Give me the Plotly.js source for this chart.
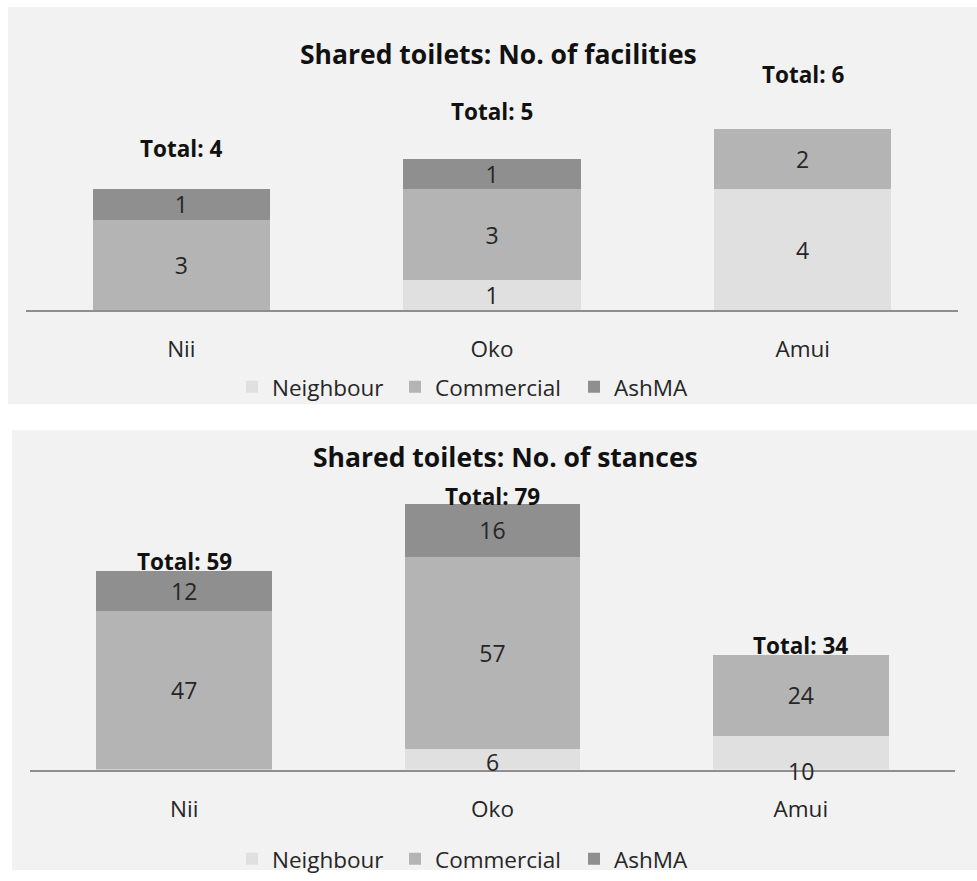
<!DOCTYPE html>
<html>
<head>
<meta charset="utf-8">
<script src="https://cdn.plot.ly/plotly-3.0.1.min.js"></script>
<style>html,body{margin:0;padding:0;background:#fff;}#chart{width:977px;height:881px;}</style>
</head>
<body>
<div id="chart"></div>
<script>
// ---- Data ----
const categories = ["Nii", "Oko", "Amui"];
const seriesNames = ["Neighbour", "Commercial", "AshMA"];

// Chart 1: Shared toilets: No. of facilities
const facNeighbour  = [0, 1, 4];
const facCommercial = [3, 3, 2];
const facAshMA      = [1, 1, 0];

// Chart 2: Shared toilets: No. of stances
const stNeighbour  = [0, 6, 10];
const stCommercial = [47, 57, 24];
const stAshMA      = [12, 16, 0];

const title1 = "Shared toilets: No. of facilities";
const title2 = "Shared toilets: No. of stances";

// ---- Styling ----
const colors = ["#e0e0e0", "#b4b4b4", "#8f8f8f"];
const legendWidths = [118, 134, 80];
const FONT = "'Open Sans', Lato, sans-serif";
const TXT = "#262626";
const W = 977, H = 881;
const py = p => (H - p) / H;   // pixel-from-top -> paper y
const px = p => p / W;

function labels(v) { return v.map(d => d === 0 ? "" : String(d)); }
function sum(arrs) { return arrs[0].map((_, i) => arrs.reduce((s, a) => s + a[i], 0)); }

const fac = [facNeighbour, facCommercial, facAshMA];
const st  = [stNeighbour, stCommercial, stAshMA];

const traces = [];
fac.forEach((vals, k) => {
  traces.push({
    type: "bar", x: categories, y: vals, name: seriesNames[k],
    xaxis: "x", yaxis: "y", legend: "legend", legendwidth: legendWidths[k],
    marker: { color: colors[k], line: { width: 0 } },
    text: labels(vals), textposition: "inside", insidetextanchor: "middle",
    constraintext: "none", textangle: 0,
    textfont: { family: FONT, size: 23, color: TXT },
    hoverinfo: "skip"
  });
});
st.forEach((vals, k) => {
  traces.push({
    type: "bar", x: categories, y: vals, name: seriesNames[k],
    xaxis: "x2", yaxis: "y2", legend: "legend2", legendwidth: legendWidths[k],
    marker: { color: colors[k], line: { width: 0 } },
    text: k === 0 ? vals.map(() => "") : labels(vals), textposition: "inside",
    insidetextanchor: "middle",
    constraintext: "none", textangle: 0,
    textfont: { family: FONT, size: 23, color: TXT },
    hoverinfo: "skip"
  });
});

const facTotals = sum(fac);
const stTotals = sum(st);
const facShift = [41, 48, 54];
const stShift = [9, 7, 10];
const stNbShift = [0, -3, -18];

const annotations = [];
facTotals.forEach((t, i) => annotations.push({
  xref: "x", yref: "y", x: categories[i], y: t, text: "<b>Total: " + t + "</b>",
  showarrow: false, yanchor: "middle", yshift: facShift[i],
  font: { family: FONT, size: 22.5, color: "#111" }
}));
stTotals.forEach((t, i) => annotations.push({
  xref: "x2", yref: "y2", x: categories[i], y: t, text: "<b>Total: " + t + "</b>",
  showarrow: false, yanchor: "middle", yshift: stShift[i],
  font: { family: FONT, size: 22.5, color: "#111" }
}));
stNeighbour.forEach((v, i) => {
  if (v === 0) return;
  annotations.push({
    xref: "x2", yref: "y2", x: categories[i], y: v / 2, text: String(v),
    showarrow: false, yanchor: "middle", yshift: stNbShift[i],
    font: { family: FONT, size: 23, color: TXT }
  });
});
annotations.push({
  xref: "paper", yref: "paper", x: px(498.5), y: py(55), xanchor: "center", yanchor: "middle",
  text: "<b>" + title1 + "</b>", showarrow: false,
  font: { family: FONT, size: 26.5, color: "#111" }
});
annotations.push({
  xref: "paper", yref: "paper", x: px(505), y: py(463), xanchor: "center", yanchor: "middle",
  text: "<b>" + title2 + "</b>", showarrow: false,
  font: { family: FONT, size: 26.5, color: "#111" }
});

const xAxisCommon = {
  type: "category", showgrid: false, zeroline: false, showline: true,
  linecolor: "#8e8e8e", linewidth: 2, ticks: "", ticklabelstandoff: 18,
  tickfont: { family: FONT, size: 22.5, color: TXT }, fixedrange: true
};
const yAxisCommon = {
  showgrid: false, zeroline: false, showline: false, showticklabels: false, ticks: "", fixedrange: true
};

const legendCommon = {
  orientation: "h", x: px(232), xanchor: "left", yanchor: "middle",
  bgcolor: "rgba(0,0,0,0)", font: { family: FONT, size: 22.5, color: TXT }, traceorder: "normal"
};

const layout = {
  width: W, height: H,
  margin: { l: 0, r: 0, t: 0, b: 0 },
  paper_bgcolor: "#ffffff", plot_bgcolor: "rgba(0,0,0,0)",
  barmode: "stack", bargap: 0.43,
  font: { family: FONT, color: TXT },
  showlegend: true,
  xaxis: Object.assign({}, xAxisCommon, { domain: [px(26), px(958)], anchor: "y" }),
  yaxis: Object.assign({}, yAxisCommon, { domain: [py(314.3), py(314.3 - 7 * 30.65)], range: [0, 7], anchor: "x" }),
  xaxis2: Object.assign({}, xAxisCommon, { domain: [px(30), px(955)], anchor: "y2" }),
  yaxis2: Object.assign({}, yAxisCommon, { domain: [py(779.3), py(779.3 - 90 * 3.41)], range: [0, 90], anchor: "x2" }),
  legend: Object.assign({}, legendCommon, { y: py(392) }),
  legend2: Object.assign({}, legendCommon, { y: py(870) }),
  shapes: [
    { type: "rect", xref: "paper", yref: "paper", x0: px(8), x1: 1, y0: py(409.3), y1: py(7),
      fillcolor: "#f2f2f2", line: { width: 0 }, layer: "below" },
    { type: "rect", xref: "paper", yref: "paper", x0: px(12), x1: 1, y0: 0, y1: py(435.7),
      fillcolor: "#f2f2f2", line: { width: 0 }, layer: "below" }
  ],
  annotations: annotations
};

Plotly.newPlot("chart", traces, layout, { staticPlot: true, displayModeBar: false });
</script>
</body>
</html>
